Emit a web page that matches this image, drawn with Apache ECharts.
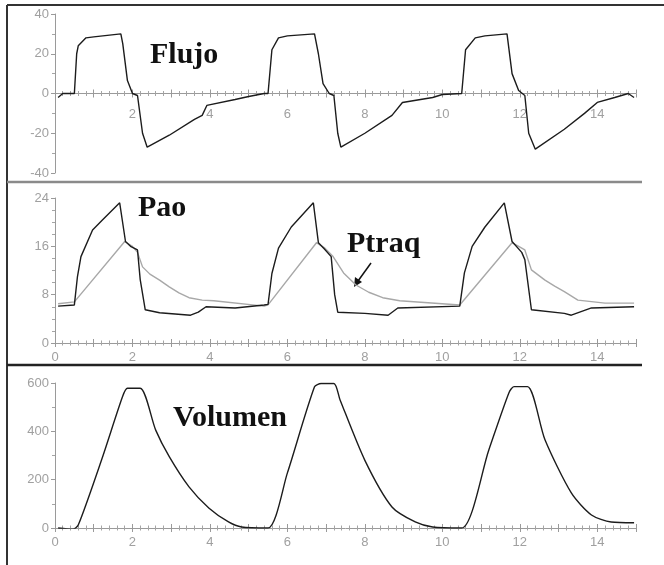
<!DOCTYPE html>
<html>
<head>
<meta charset="utf-8">
<script src="https://cdn.jsdelivr.net/npm/echarts@6/dist/echarts.min.js"></script>
<style>
  html, body { margin: 0; padding: 0; background: #fff; }
  #chart { width: 664px; height: 565px; }
</style>
</head>
<body>
<div id="chart"></div>
<script>
// Flujo (L/min) vs time (s)
const flujoT = [0.08, 0.2, 0.5, 0.56, 0.6, 0.8, 1.0, 1.7, 1.75, 1.87, 2.0, 2.13, 2.26, 2.38, 2.95, 3.6, 3.8, 3.92, 4.65, 5.0, 5.4,
  5.5, 5.6, 5.77, 6.0, 6.7, 6.8, 6.92, 7.08, 7.2, 7.3, 7.38, 8.0, 8.7, 8.97, 9.75, 10.0,
  10.5, 10.6, 10.85, 11.1, 11.67, 11.8, 11.97, 12.13, 12.23, 12.4, 13.15, 13.67, 14.0, 14.45, 14.8, 14.95];
const flujoV = [-2, 0, 0, 20, 24, 28, 28.5, 30, 25, 6.5, 0, -1, -20, -27, -21, -13, -11, -6, -3, -1.5, 0,
  0, 22, 28, 29, 30, 20, 5, 0, -1, -20, -27, -20, -11, -4.5, -2, -0.5,
  0, 22, 28, 29, 30, 10, 1.5, -1, -20, -28, -18, -10, -4.5, -2, 0, -2];

// Pao (cmH2O)
const paoT = [0.08, 0.5, 0.58, 0.67, 0.97, 1.23, 1.67, 1.82, 1.95, 2.13, 2.2, 2.33, 2.7, 3.5, 3.7, 3.9, 4.65, 5.4,
  5.5, 5.6, 5.77, 6.1, 6.67, 6.8, 6.95, 7.13, 7.22, 7.3, 8.0, 8.6, 8.85, 10.45,
  10.57, 10.77, 11.1, 11.6, 11.8, 12.05, 12.13, 12.3, 13.15, 13.33, 13.85, 14.95];
const paoV = [6.1, 6.3, 11, 14.3, 18.7, 20.4, 23.2, 16.8, 16, 15.4, 10.5, 5.5, 5, 4.6, 5.1, 6, 5.8, 6.3,
  6.4, 11.5, 15.7, 19.2, 23.2, 16.6, 15.6, 14.3, 8, 5.1, 4.9, 4.6, 5.8, 6.1,
  11.6, 16, 19.2, 23.2, 16.8, 15, 13.8, 5.5, 4.9, 4.6, 5.8, 6];

// Ptraq (cmH2O)
const ptraqT = [0.08, 0.5, 1.8, 2.0, 2.13, 2.26, 2.45, 2.7, 2.95, 3.2, 3.46, 3.8, 4.1, 5.4,
  5.5, 6.75, 6.95, 7.18, 7.45, 7.77, 8.1, 8.46, 8.9, 10.45,
  11.8, 12.13, 12.3, 12.65, 12.9, 13.15, 13.5, 14.2, 14.95];
const ptraqV = [6.5, 6.8, 16.8, 16, 15, 12.6, 11.4, 10.4, 9.3, 8.3, 7.5, 7.1, 7, 6.1,
  6.3, 16.6, 15.8, 14.3, 11.6, 9.6, 8.4, 7.5, 7, 6.3,
  16.6, 15.4, 12.1, 10.4, 9.4, 8.5, 7.1, 6.6, 6.6];

// Volumen (mL)
const volT = [0.08, 0.46, 0.6, 1.23, 1.74, 1.87, 2.2, 2.6, 2.95, 3.46, 3.97, 4.48, 4.82, 5.5,
  6.0, 6.7, 6.87, 7.2, 7.36, 8.0, 8.7, 9.3, 9.75, 10.5,
  11.2, 11.72, 11.85, 12.2, 12.65, 13.33, 13.85, 14.36, 14.95];
const volV = [0, -5, 12, 295, 542, 578, 578, 405, 295, 170, 83, 25, 4, 0,
  228, 584, 598, 598, 530, 280, 87, 25, 4, 0,
  323, 560, 585, 585, 365, 145, 54, 25, 22];

const xTicks = [0, 2, 4, 6, 8, 10, 12, 14];

function pairs(t, v) {
  return t.map(function (x, i) { return [x, v[i]]; });
}

const labelFont = '"Liberation Sans", Arial, sans-serif';

// kind: 'main' (line + outer ticks + labels), 'inner' (ticks pointing up), 'labels' (labels only)
function makeX(grid, kind, opts) {
  opts = opts || {};
  const showLabels = kind === 'labels' || (kind === 'main' && !opts.noLabels);
  return {
    type: 'value', gridIndex: grid, position: 'bottom', offset: opts.offset || 0,
    min: 0, max: 15, interval: 1,
    axisLine: {
      show: kind === 'main', onZero: kind !== 'labels', onZeroAxisIndex: grid,
      lineStyle: { color: '#9a9a9a', width: 1 }
    },
    axisTick: { show: kind !== 'labels', inside: kind === 'inner', length: 4, lineStyle: { color: '#9a9a9a' } },
    minorTick: { show: kind !== 'labels', splitNumber: 5, length: 2.5, lineStyle: { color: '#a5a5a5' } },
    axisLabel: {
      show: showLabels, color: '#a0a0a0', fontSize: 13, margin: opts.margin || 8, fontFamily: labelFont,
      formatter: function (v) {
        if (xTicks.indexOf(v) < 0) return '';
        if (v === 0 && opts.hideZero) return '';
        return String(v);
      }
    },
    splitLine: { show: false }
  };
}

function makeY(grid, min, max, interval, minor) {
  return {
    type: 'value', gridIndex: grid, min: min, max: max, interval: interval,
    axisLine: { show: true, onZero: false, lineStyle: { color: '#9a9a9a', width: 1 } },
    axisTick: { show: true, length: 4, lineStyle: { color: '#9a9a9a' } },
    minorTick: { show: true, splitNumber: minor, length: 3, lineStyle: { color: '#a5a5a5' } },
    axisLabel: { color: '#a0a0a0', fontSize: 13, margin: 6, fontFamily: labelFont },
    splitLine: { show: false }
  };
}

const serifBold = 'bold 30px "Liberation Serif", "Times New Roman", serif';

const chart = echarts.init(document.getElementById('chart'));
chart.setOption({
  animation: false,
  backgroundColor: '#fff',
  grid: [
    { left: 55, right: 28, top: 14, height: 159 },
    { left: 55, right: 28, top: 198, height: 145 },
    { left: 55, right: 28, top: 383, height: 145 }
  ],
  xAxis: [
    makeX(0, 'main', { noLabels: true }), makeX(0, 'inner'),
    makeX(1, 'main'), makeX(1, 'inner'),
    makeX(2, 'main'), makeX(2, 'inner'),
    // labels of the top panel sit under the zero line
    makeX(0, 'labels', { offset: -79.5, hideZero: true, margin: 14 })
  ],
  yAxis: [
    makeY(0, -40, 40, 20, 2),
    makeY(1, 0, 24, 8, 4),
    makeY(2, 0, 600, 200, 2)
  ],
  series: [
    { name: 'Flujo', type: 'line', xAxisIndex: 0, yAxisIndex: 0, data: pairs(flujoT, flujoV),
      showSymbol: false, lineStyle: { color: '#1c1c1c', width: 1.4 } },
    { name: 'Ptraq', type: 'line', xAxisIndex: 2, yAxisIndex: 1, data: pairs(ptraqT, ptraqV),
      showSymbol: false, lineStyle: { color: '#a8a8a8', width: 1.4 } },
    { name: 'Pao', type: 'line', xAxisIndex: 2, yAxisIndex: 1, data: pairs(paoT, paoV),
      showSymbol: false, lineStyle: { color: '#1c1c1c', width: 1.4 } },
    { name: 'Volumen', type: 'line', xAxisIndex: 4, yAxisIndex: 2, data: pairs(volT, volV),
      showSymbol: false, smooth: 0.25, lineStyle: { color: '#1c1c1c', width: 1.4 } }
  ],
  graphic: [
    // frame and panel separators
    { type: 'line', shape: { x1: 7, y1: 5, x2: 664, y2: 5 }, style: { stroke: '#333', lineWidth: 2 } },
    { type: 'line', shape: { x1: 7, y1: 5, x2: 7, y2: 565 }, style: { stroke: '#333', lineWidth: 2 } },
    { type: 'line', shape: { x1: 7, y1: 182, x2: 642, y2: 182 }, style: { stroke: '#8a8a8a', lineWidth: 2.5 } },
    { type: 'line', shape: { x1: 7, y1: 365, x2: 642, y2: 365 }, style: { stroke: '#222', lineWidth: 2.5 } },
    // panel labels
    { type: 'text', x: 150, y: 55, style: { text: 'Flujo', font: serifBold, fill: '#111', textVerticalAlign: 'middle' } },
    { type: 'text', x: 138, y: 208, style: { text: 'Pao', font: serifBold, fill: '#111', textVerticalAlign: 'middle' } },
    { type: 'text', x: 347, y: 244, style: { text: 'Ptraq', font: serifBold, fill: '#111', textVerticalAlign: 'middle' } },
    { type: 'text', x: 173, y: 418, style: { text: 'Volumen', font: serifBold, fill: '#111', textVerticalAlign: 'middle' } },
    // arrow pointing at the Ptraq trace
    { type: 'line', shape: { x1: 371, y1: 263, x2: 358, y2: 281 }, style: { stroke: '#111', lineWidth: 1.5 } },
    { type: 'polygon', shape: { points: [[354, 287], [355, 277], [362, 282]] }, style: { fill: '#111' } }
  ]
});
</script>
</body>
</html>
